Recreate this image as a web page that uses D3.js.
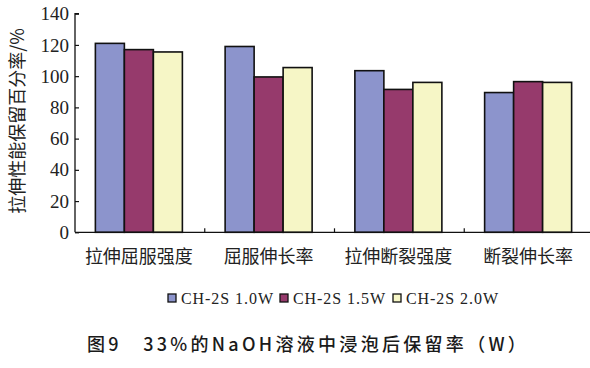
<!DOCTYPE html>
<html><head><meta charset="utf-8">
<script src="https://cdn.jsdelivr.net/npm/d3@7"></script>
<style>body{margin:0;background:#fff;}svg{display:block;}</style>
</head><body>
<svg id="c" width="590" height="368"></svg>
<script>
const categories = ["拉伸屈服强度", "屈服伸长率", "拉伸断裂强度", "断裂伸长率"];
const seriesNames = ["CH-2S 1.0W", "CH-2S 1.5W", "CH-2S 2.0W"];
const s10 = [121, 119, 103.5, 89.5];
const s15 = [117, 99.5, 91.5, 96.5];
const s20 = [115.5, 105.5, 96, 96];
const yTicks = [0, 20, 40, 60, 80, 100, 120, 140];
const colors = ["#8c94cc", "#963a6c", "#f6f6c6"];
const yTitle = "拉伸性能保留百分率/%";
const caption = "图9　33%的NaOH溶液中浸泡后保留率（W）";

const series = [s10, s15, s20];
const svg = d3.select("#c");
const x0 = d3.scaleBand().domain(categories).range([75, 594]).paddingInner(0).paddingOuter(0);
const y = d3.scaleLinear().domain([0, 140]).range([232.3, 13.7]);
const groupW = 87;
const x1 = d3.scaleBand().domain(d3.range(3)).range([0, groupW]);

// bars
const g = svg.append("g");
categories.forEach((c, i) => {
  const gx = x0(c) + (x0.bandwidth() - groupW) / 2 - 1;
  series.forEach((s, k) => {
    g.append("rect")
      .attr("x", gx + x1(k))
      .attr("y", y(s[i]))
      .attr("width", x1.bandwidth())
      .attr("height", y(0) - y(s[i]))
      .attr("fill", colors[k])
      .attr("stroke", "#111")
      .attr("stroke-width", 1.6);
  });
});

// y axis
const ya = svg.append("g").attr("transform", "translate(75,0)")
  .call(d3.axisRight(y).tickValues(yTicks).tickSize(4).tickFormat(""));
ya.select(".domain").attr("d", `M4,${y(140)}H0V${y(0)}`).attr("stroke", "#111").attr("stroke-width", 1.3);
ya.selectAll(".tick line").attr("stroke", "#111").attr("stroke-width", 1.2);
svg.append("g").selectAll("text").data(yTicks).join("text")
  .attr("x", 69).attr("y", d => y(d)).attr("dy", "0.35em")
  .attr("text-anchor", "end")
  .attr("font-family", "Liberation Serif, serif").attr("font-size", 19).attr("fill", "#222")
  .text(d => d);

// x axis
const xa = svg.append("g").attr("transform", `translate(0,${y(0)})`);
xa.append("line").attr("x1", 75).attr("x2", 594).attr("stroke", "#111").attr("stroke-width", 1.3);
xa.selectAll("line.t").data(categories.slice(1)).join("line").attr("class", "t")
  .attr("x1", d => x0(d)).attr("x2", d => x0(d)).attr("y1", 0).attr("y2", -4)
  .attr("stroke", "#111").attr("stroke-width", 1.2);
svg.append("g").selectAll("text").data(categories).join("text")
  .attr("x", d => x0(d) + x0.bandwidth() / 2 - 1).attr("y", 263)
  .attr("text-anchor", "middle")
  .attr("font-family", "Noto Sans CJK SC").attr("font-size", 18).attr("fill", "#222")
  .text(d => d);

// y title
svg.append("text")
  .attr("transform", "translate(24,121) rotate(-90)")
  .attr("text-anchor", "middle")
  .attr("font-family", "Noto Sans CJK SC").attr("font-size", 18).attr("fill", "#222")
  .text(yTitle);

// legend
const legX = [168, 280, 393];
const lg = svg.append("g");
seriesNames.forEach((n, k) => {
  lg.append("rect").attr("x", legX[k]).attr("y", 294).attr("width", 8).attr("height", 8)
    .attr("fill", colors[k]).attr("stroke", "#111").attr("stroke-width", 1.3);
  lg.append("text").attr("x", legX[k] + 13).attr("y", 304)
    .attr("font-family", "Liberation Serif, serif").attr("font-size", 16).attr("fill", "#222")
    .attr("textLength", 92).attr("lengthAdjust", "spacing")
    .text(n);
});

// caption
svg.append("text").attr("x", 87).attr("y", 351)
  .attr("font-family", "Noto Sans CJK SC").attr("font-size", 18).attr("font-weight", 500).attr("fill", "#1a1a1a")
  .attr("letter-spacing", 3.3)
  .text(caption);
</script>
</body></html>
